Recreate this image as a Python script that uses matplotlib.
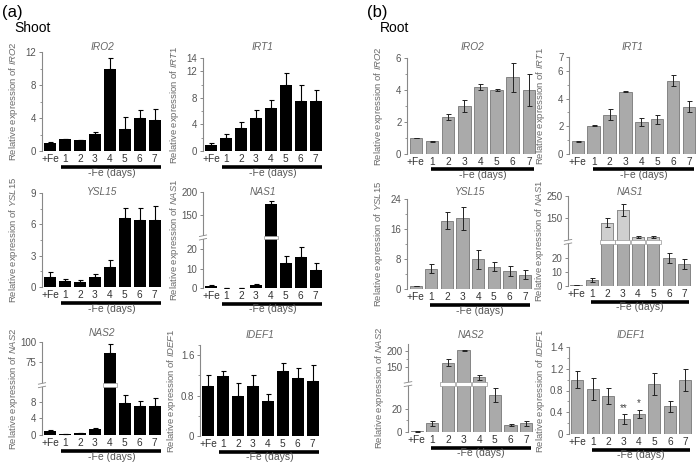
import numpy as np
import matplotlib
matplotlib.use("Agg")
import matplotlib.pyplot as plt
import matplotlib.transforms as mtransforms
from matplotlib.patches import Rectangle

plt.rcParams['font.family'] = ['Liberation Sans', 'DejaVu Sans']
plt.rcParams['mathtext.fontset'] = 'custom'
plt.rcParams['mathtext.rm'] = 'Liberation Sans'
plt.rcParams['mathtext.it'] = 'Liberation Sans:italic'

dias = ['+Fe', '1', '2', '3', '4', '5', '6', '7']

# ---- (a) Shoot ----
shoot_iro2 = [1.0, 1.4, 1.3, 2.1, 10.0, 2.7, 4.0, 3.8]
shoot_iro2_err = [0.1, 0.05, 0.05, 0.2, 1.3, 1.4, 1.0, 1.3]
shoot_irt1 = [0.9, 1.9, 3.5, 5.0, 6.5, 10.0, 7.5, 7.5]
shoot_irt1_err = [0.3, 0.7, 0.8, 1.2, 1.2, 1.8, 2.5, 1.7]
shoot_ysl15 = [1.0, 0.6, 0.5, 0.95, 1.9, 6.6, 6.4, 6.4]
shoot_ysl15_err = [0.4, 0.2, 0.15, 0.25, 0.7, 1.0, 1.2, 1.4]
shoot_nas1 = [0.9, 0.2, 0.2, 1.4, 173, 12.7, 15.7, 9.2]
shoot_nas1_err = [0.5, 0.05, 0.05, 0.5, 7, 3.8, 5.2, 3.8]
shoot_nas2 = [1.0, 0.3, 0.5, 1.5, 86, 7.7, 6.9, 7.0]
shoot_nas2_err = [0.3, 0.05, 0.1, 0.1, 11, 1.9, 1.4, 2.0]
shoot_idef1 = [0.99, 1.18, 0.79, 0.99, 0.69, 1.29, 1.14, 1.09]
shoot_idef1_err = [0.21, 0.11, 0.25, 0.21, 0.15, 0.16, 0.2, 0.31]

# ---- (b) Root ----
root_iro2 = [1.0, 0.8, 2.3, 3.0, 4.2, 4.0, 4.8, 4.0]
root_iro2_err = [0.03, 0.02, 0.2, 0.4, 0.2, 0.06, 0.9, 1.0]
root_irt1 = [0.92, 2.05, 2.85, 4.5, 2.3, 2.5, 5.3, 3.4]
root_irt1_err = [0.03, 0.05, 0.4, 0.05, 0.3, 0.3, 0.42, 0.4]
root_ysl15 = [0.8, 5.4, 18.2, 18.9, 7.9, 6.0, 4.8, 3.8]
root_ysl15_err = [0.1, 1.2, 2.3, 3.1, 2.5, 1.2, 1.3, 1.25]
root_nas1 = [0.6, 4.3, 127, 185, 62, 62, 20, 15.7]
root_nas1_err = [0.1, 1.4, 21, 26, 3, 3, 3.8, 3.5]
root_nas2 = [0.5, 7.4, 164, 202, 120, 32, 6.3, 7.4]
root_nas2_err = [0.1, 2, 10.5, 1.5, 6.5, 6, 0.8, 2.3]
root_idef1 = [1.0, 0.83, 0.70, 0.28, 0.37, 0.92, 0.51, 0.99]
root_idef1_err = [0.15, 0.2, 0.15, 0.09, 0.08, 0.2, 0.1, 0.2]
root_idef1_sig = ['', '', '', '**', '*', '', '', '']

W, H = 700, 462
fig = plt.figure(figsize=(7, 4.62), dpi=100)


def broken(b1, b2, r):
    def fwd(y):
        y = np.asarray(y, float)
        return np.where(y <= b1, y, np.where(y < b2, b1, b1 + (y - b2) * r))

    def inv(u):
        u = np.asarray(u, float)
        return np.where(u <= b1, u, b2 + (u - b1) / r)
    return fwd, inv


def panel(box, gene, vals, errs, top, ticks, ticklabels=None, minor=None,
          root=False, brk=None, title_y=None, line=(0.75, 7.45)):
    x0, x1, yb, yt = box
    ax = fig.add_axes([x0 / W, 1 - yb / H, (x1 - x0) / W, (yb - yt) / H])
    axh = yb - yt
    x = np.arange(len(vals))
    if brk is not None:
        fwd, inv = broken(*brk)
        ax.set_yscale('function', functions=(fwd, inv))
    if root:
        ax.bar(x, vals, width=0.78, color='#aaaaaa', edgecolor='#777777', lw=0.6, zorder=2)
        if brk is not None and gene == 'NAS1':
            hi = [i for i in x if vals[i] > brk[1]]
            ax.bar([x[i] for i in hi], [vals[i] - brk[1] for i in hi], bottom=brk[1],
                   width=0.78, color='#cfcfcf', edgecolor='#888888', lw=0.6, zorder=2)
        ax.errorbar(x, vals, yerr=errs, fmt='none', ecolor='#222222',
                    elinewidth=0.7, capsize=1.8, capthick=0.7, zorder=3)
    else:
        ax.bar(x, vals, width=0.8, color='black', zorder=2)
        ax.errorbar(x, vals, yerr=[np.zeros(len(vals)), errs], fmt='none', ecolor='black',
                    elinewidth=0.8, capsize=1.8, capthick=0.8, zorder=3)
    ax.set_xlim(-0.55, 7.5)
    ax.set_ylim(0, top)
    ax.set_yticks(ticks)
    ax.set_yticklabels(ticklabels if ticklabels else [f'{t:g}' for t in ticks])
    if minor:
        ax.set_yticks(minor, minor=True)
    else:
        ax.set_yticks([], minor=True)
    ax.set_xticks(x)
    ax.set_xticklabels(dias)
    for s in ['top', 'right', 'bottom']:
        ax.spines[s].set_visible(False)
    ax.spines['left'].set_color('#888888')
    ax.spines['left'].set_linewidth(0.8)
    ax.tick_params(axis='y', which='major', length=2.5, width=0.7, color='#888888',
                   labelsize=7, labelcolor='#555555', pad=1.5)
    ax.tick_params(axis='y', which='minor', length=1.5, width=0.6, color='#888888')
    ax.tick_params(axis='x', length=0, labelsize=7.3, labelcolor='#333333', pad=2)
    ax.set_ylabel(r'Relative expression of $\it{' + gene + '}$', fontsize=6.8,
                  color='#6a6a6a')
    ax.yaxis.set_label_coords(-22 / (x1 - x0), 0.5)

    blend = mtransforms.blended_transform_factory(ax.transData, ax.transAxes)
    down = mtransforms.ScaledTranslation(0, -0.155, fig.dpi_scale_trans)
    ax.plot(line, [0, 0], color='black', lw=2.6, solid_capstyle='butt',
            transform=blend + down, clip_on=False)
    ax.text(np.mean(line), 0, '-Fe (days)',
            transform=blend + mtransforms.ScaledTranslation(0, -0.215, fig.dpi_scale_trans),
            ha='center', va='center', fontsize=7.5, color='#555555')

    fig.text((x0 + x1) / 2 / W, 1 - title_y / H, gene, style='italic', fontsize=7.3,
             color='#666666', ha='center', va='center')

    if brk is not None:
        b1 = brk[0]
        f = float(fwd(b1) / fwd(top))
        hh = 3.5 / axh
        for i in x:
            if vals[i] > brk[1]:
                ax.add_patch(Rectangle((i - 0.48, f - hh / 2), 0.96, hh, transform=blend,
                                       facecolor='white', edgecolor='#999999', lw=0.5,
                                       zorder=5, clip_on=False))
        ax.add_patch(Rectangle((-0.03, f - hh / 2), 0.06, hh, transform=ax.transAxes,
                               facecolor='white', edgecolor='none', zorder=6, clip_on=False))
        for d in (-hh / 2, hh / 2):
            ax.plot([-0.03, 0.03], [f + d - 0.008, f + d + 0.008], color='#888888', lw=0.6,
                    transform=ax.transAxes, clip_on=False, zorder=7)
    return ax


# shoot
panel((42, 162, 151, 52), 'IRO2', shoot_iro2, shoot_iro2_err, 12, [0, 4, 8, 12],
      minor=[2, 6, 10], title_y=47)
panel((203, 323, 151, 58), 'IRT1', shoot_irt1, shoot_irt1_err, 14, [0, 4, 8, 12, 14],
      minor=[2, 6, 10], title_y=47)
panel((42, 162, 287, 193), 'YSL15', shoot_ysl15, shoot_ysl15_err, 9, [0, 3, 6, 9],
      minor=[1.5, 4.5, 7.5], title_y=192)
panel((203, 323, 288, 192), 'NAS1', shoot_nas1, shoot_nas1_err, 200, [0, 10, 20, 150, 200],
      brk=(26, 101, 0.2365), title_y=192)
panel((42, 162, 435, 342), 'NAS2', shoot_nas2, shoot_nas2_err, 100, [0, 4, 8, 75, 100],
      brk=(12, 45.8, 0.192), title_y=333)
panel((200, 320, 436, 345), 'IDEF1', shoot_idef1, shoot_idef1_err, 1.8, [0, 0.8, 1.6],
      minor=[0.4, 1.2, 1.8], title_y=335)

# root
panel((407, 537, 154, 58), 'IRO2', root_iro2, root_iro2_err, 6, [0, 2, 4, 6],
      minor=[1, 3, 5], root=True, title_y=47, line=(0.95, 7.3))
panel((569, 697, 154, 57), 'IRT1', root_irt1, root_irt1_err, 7, [0, 2, 4, 6, 7],
      minor=[1, 3, 5], root=True, title_y=47, line=(0.95, 7.3))
panel((407, 533, 289, 199), 'YSL15', root_ysl15, root_ysl15_err, 24, [0, 8, 16, 24],
      minor=[4, 12, 20], root=True, title_y=192, line=(0.95, 7.3))
panel((568, 692, 286, 196), 'NAS1', root_nas1, root_nas1_err, 250, [0, 10, 20, 150, 250],
      root=True, brk=(31.4, 39, 0.155), title_y=192, line=(0.95, 7.3))
panel((408, 534, 432, 344), 'NAS2', root_nas2, root_nas2_err, 220, [0, 20, 150, 200],
      minor=[10, 175], root=True, brk=(41, 100, 0.286), title_y=335, line=(0.95, 7.3))
ax = panel((569, 693, 434, 347), 'IDEF1', root_idef1, root_idef1_err, 1.6,
           [0, 0.4, 0.8, 1.2, 1.6], ticklabels=['0', '0.4', '0.8', '1.2', '1.4'],
           minor=[0.2, 0.6, 1.0, 1.4], root=True, title_y=335, line=(0.95, 7.3))
for i, s in enumerate(root_idef1_sig):
    if s:
        ax.text(i, root_idef1[i] + root_idef1_err[i] + 0.02, s, ha='center', va='bottom',
                fontsize=7, color='#444444')

fig.text(2 / W, 1 - 12 / H, '(a)', fontsize=12, ha='left', va='center')
fig.text(14 / W, 1 - 28 / H, 'Shoot', fontsize=10, ha='left', va='center')
fig.text(367 / W, 1 - 12 / H, '(b)', fontsize=12, ha='left', va='center')
fig.text(380 / W, 1 - 28 / H, 'Root', fontsize=10, ha='left', va='center')

fig.savefig('out.png', dpi=100)
